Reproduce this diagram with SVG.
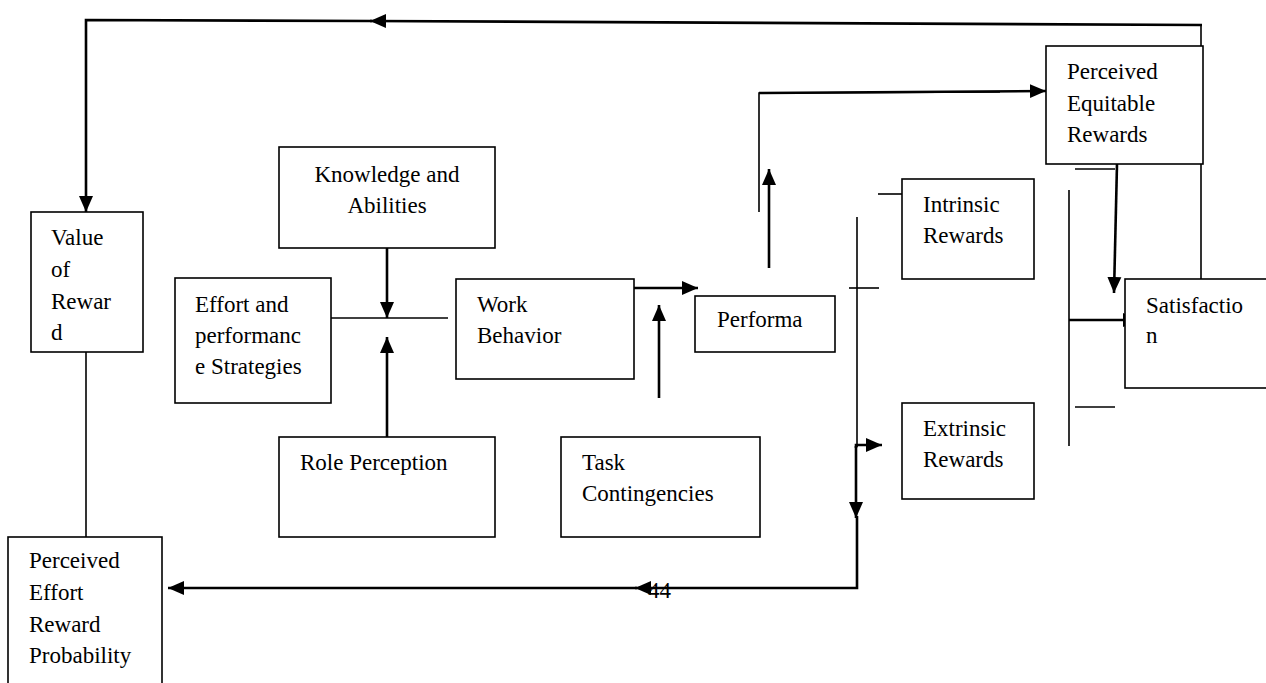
<svg xmlns="http://www.w3.org/2000/svg" width="1266" height="683" viewBox="0 0 1266 683">
<defs>
<marker id="ah" markerUnits="userSpaceOnUse" markerWidth="16" markerHeight="16" viewBox="0 0 16 16" refX="16" refY="8" orient="auto">
<path d="M0,1 L16,8 L0,15 Z" fill="#000"/>
</marker>
<style>
.box{fill:#fff;stroke:#000;stroke-width:1.6}
.t{font-size:23px;fill:#000}
.thin{stroke:#000;stroke-width:1.6;fill:none}
.thick{stroke:#000;stroke-width:2.6;fill:none}
</style>
</defs>
<rect width="1266" height="683" fill="#fff"/>
<g id="connectors">
<line class="thin" x1="1201" y1="279" x2="1201" y2="164"/>
<line class="thin" x1="1201" y1="46" x2="1201" y2="24"/>
<path class="thick" d="M1202,25 L370,21" marker-end="url(#ah)"/>
<path class="thick" d="M372,21 L86,20 L86,212" marker-end="url(#ah)"/>
<line class="thin" x1="86" y1="352" x2="86" y2="537"/>
<path class="thick" d="M387,248 L387,318" marker-end="url(#ah)"/>
<path class="thick" d="M387,437 L387,337" marker-end="url(#ah)"/>
<line class="thin" x1="331" y1="318" x2="448" y2="318"/>
<path class="thick" d="M634,288 L698,288" marker-end="url(#ah)"/>
<path class="thick" d="M659,398 L659,305" marker-end="url(#ah)"/>
<path class="thick" d="M769,268 L769,169" marker-end="url(#ah)"/>
<path class="thin" d="M759,212 L759,93 L1000,92"/>
<path class="thick" d="M759,93 L1046,91" marker-end="url(#ah)"/>
<line class="thin" x1="878" y1="194" x2="902" y2="194"/>
<line class="thin" x1="857" y1="217" x2="857" y2="447"/>
<line class="thin" x1="849" y1="288" x2="879" y2="288"/>
<path class="thick" d="M856,448 L856,445 L882,445" marker-end="url(#ah)"/>
<path class="thick" d="M856,446 L856,518" marker-end="url(#ah)"/>
<path class="thick" d="M857,516 L857,588 L635,588" marker-end="url(#ah)"/>
<path class="thick" d="M637,588 L168,588" marker-end="url(#ah)"/>
<path class="thick" d="M1117,164 L1114,293" marker-end="url(#ah)"/>
<line class="thin" x1="1069" y1="190" x2="1069" y2="446"/>
<line class="thin" x1="1075" y1="169" x2="1115" y2="169"/>
<line class="thin" x1="1075" y1="407" x2="1115" y2="407"/>
<path class="thick" d="M1069,320 L1139,320" marker-end="url(#ah)"/>
</g>
<g font-family="'Liberation Serif', 'DejaVu Serif', 'Times New Roman', Times, serif">
<g id="value">
<rect class="box" x="31" y="212" width="112" height="140"/>
<text class="t" x="51" y="245">Value</text>
<text class="t" x="51" y="277">of</text>
<text class="t" x="51" y="309">Rewar</text>
<text class="t" x="51" y="340">d</text>
</g>
<g id="knowledge">
<rect class="box" x="279" y="147" width="216" height="101"/>
<text class="t" x="387" y="182" text-anchor="middle">Knowledge and</text>
<text class="t" x="387" y="213" text-anchor="middle">Abilities</text>
</g>
<g id="effort">
<rect class="box" x="175" y="278" width="156" height="125"/>
<text class="t" x="195" y="312">Effort and</text>
<text class="t" x="195" y="343">performanc</text>
<text class="t" x="195" y="374">e Strategies</text>
</g>
<g id="work">
<rect class="box" x="456" y="279" width="178" height="100"/>
<text class="t" x="477" y="312">Work</text>
<text class="t" x="477" y="343">Behavior</text>
</g>
<g id="performance">
<rect class="box" x="695" y="296" width="140" height="56"/>
<text class="t" x="717" y="327">Performa</text>
</g>
<g id="role">
<rect class="box" x="279" y="437" width="216" height="100"/>
<text class="t" x="300" y="470">Role Perception</text>
</g>
<g id="task">
<rect class="box" x="561" y="437" width="199" height="100"/>
<text class="t" x="582" y="470">Task</text>
<text class="t" x="582" y="501">Contingencies</text>
</g>
<g id="equitable">
<rect class="box" x="1046" y="46" width="157" height="118"/>
<text class="t" x="1067" y="79">Perceived</text>
<text class="t" x="1067" y="111">Equitable</text>
<text class="t" x="1067" y="142">Rewards</text>
</g>
<g id="intrinsic">
<rect class="box" x="902" y="179" width="132" height="100"/>
<text class="t" x="923" y="212">Intrinsic</text>
<text class="t" x="923" y="243">Rewards</text>
</g>
<g id="extrinsic">
<rect class="box" x="902" y="403" width="132" height="96"/>
<text class="t" x="923" y="436">Extrinsic</text>
<text class="t" x="923" y="467">Rewards</text>
</g>
<g id="satisfaction">
<rect class="box" x="1125" y="279" width="145" height="109"/>
<text class="t" x="1146" y="313">Satisfactio</text>
<text class="t" x="1146" y="343">n</text>
</g>
<g id="perceived-effort">
<rect class="box" x="8" y="537" width="154" height="150"/>
<text class="t" x="29" y="568">Perceived</text>
<text class="t" x="29" y="600">Effort</text>
<text class="t" x="29" y="632">Reward</text>
<text class="t" x="29" y="663">Probability</text>
</g>
<text class="t" x="648" y="598">44</text>
</g>
</svg>
